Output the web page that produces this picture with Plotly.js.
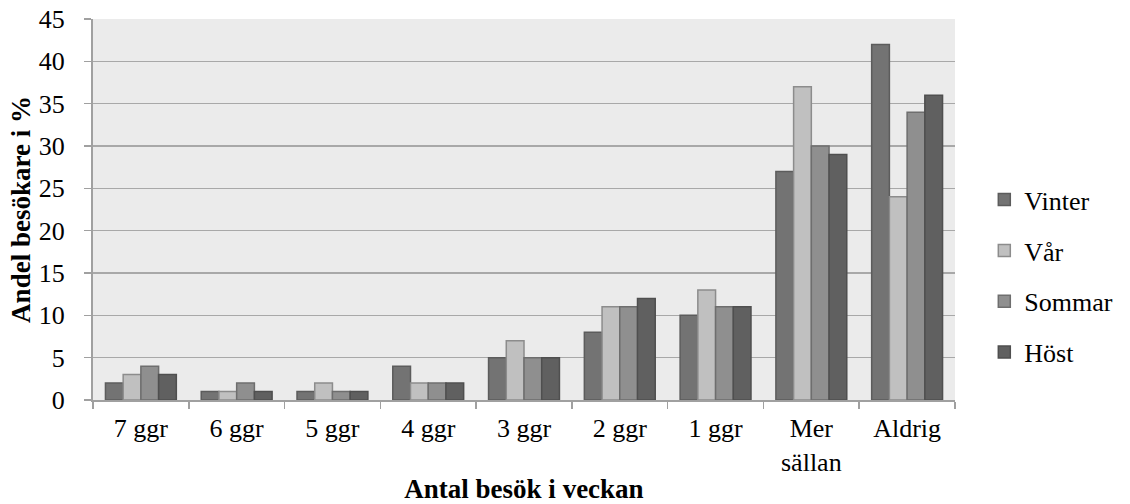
<!DOCTYPE html>
<html>
<head>
<meta charset="utf-8">
<script src="https://cdn.plot.ly/plotly-3.0.1.min.js"></script>
<style>html,body{margin:0;padding:0;background:#fff;}#chart{width:1130px;height:504px;}</style>
</head>
<body>
<div id="chart"></div>
<script>
const categories = ["7 ggr", "6 ggr", "5 ggr", "4 ggr", "3 ggr", "2 ggr", "1 ggr", "Mer<br>sällan", "Aldrig"];
const seriesNames = ["Vinter", "Vår", "Sommar", "Höst"];
const vinter = [2, 1, 1, 4, 5, 8, 10, 27, 42];
const var_ = [3, 1, 2, 2, 7, 11, 13, 37, 24];
const sommar = [4, 2, 1, 2, 5, 11, 11, 30, 34];
const host = [3, 1, 1, 2, 5, 12, 11, 29, 36];
const yTicks = [0, 5, 10, 15, 20, 25, 30, 35, 40, 45];

const seriesValues = [vinter, var_, sommar, host];
const fills = ["#737373", "#c0c0c0", "#8f8f8f", "#606060"];
const lines = ["#5c5c5c", "#8c8c8c", "#6e6e6e", "#4f4f4f"];

const FONT = "Liberation Serif, Times New Roman, serif";

const traces = seriesNames.map((name, i) => ({
  type: "bar",
  name: name,
  x: categories,
  y: seriesValues[i],
  legendgroup: "g" + i,
  marker: {color: fills[i], line: {color: lines[i], width: 1.5}},
  hoverinfo: "skip"
}));

const layout = {
  width: 1130,
  height: 504,
  margin: {l: 93, r: 162, t: 19, b: 104, pad: 0},
  paper_bgcolor: "#ffffff",
  plot_bgcolor: "#ebebeb",
  font: {family: FONT, size: 26, color: "#000000"},
  barmode: "group",
  bargap: 0.26,
  bargroupgap: 0,
  showlegend: true,
  legend: {
    x: 1.034, xanchor: "left", xref: "paper",
    y: 0.325, yanchor: "middle",
    font: {family: FONT, size: 26, color: "#000000"},
    tracegroupgap: 14,
    traceorder: "grouped",
    bgcolor: "rgba(0,0,0,0)",
    itemwidth: 30
  },
  xaxis: {
    type: "category",
    tickson: "boundaries",
    ticks: "outside",
    ticklen: 7,
    tickwidth: 1.5,
    tickcolor: "#a0a0a0",
    showline: true,
    linecolor: "#a0a0a0",
    linewidth: 2,
    showgrid: false,
    zeroline: false,
    ticklabelstandoff: 4,
    tickfont: {family: FONT, size: 26, color: "#000000"},
    title: {text: "<b>Antal besök i veckan</b>", font: {family: FONT, size: 27, color: "#000000"}, standoff: 14},
    automargin: false
  },
  yaxis: {
    range: [0, 45],
    tickvals: yTicks,
    ticktext: yTicks.map(String),
    ticks: "outside",
    ticklen: 7,
    tickwidth: 1.5,
    tickcolor: "#a0a0a0",
    showline: true,
    linecolor: "#a0a0a0",
    linewidth: 2,
    showgrid: true,
    gridcolor: "#a8a8a8",
    gridwidth: 1.5,
    zeroline: false,
    ticklabelstandoff: 14,
    tickfont: {family: FONT, size: 26, color: "#000000"},
    title: {text: "<b>Andel besökare i %</b>", font: {family: FONT, size: 27, color: "#000000"}, standoff: 0},
    automargin: false
  }
};

Plotly.newPlot("chart", traces, layout, {staticPlot: true, displayModeBar: false});
</script>
</body>
</html>
